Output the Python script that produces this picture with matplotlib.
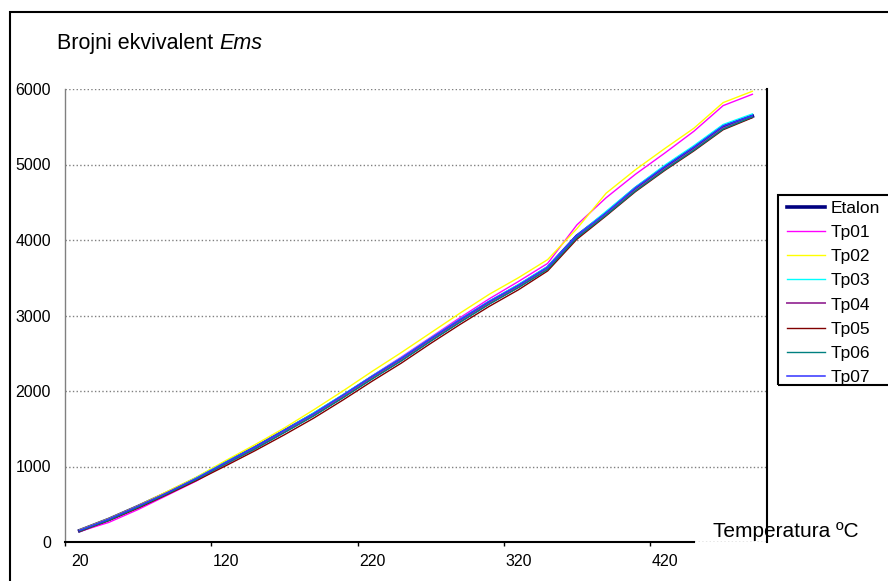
import numpy as np
import matplotlib
matplotlib.use('Agg')
import matplotlib.pyplot as plt
from matplotlib.patches import Rectangle

plt.rcParams['font.family'] = ['Liberation Sans', 'DejaVu Sans']

# ---data--- #
temps = [20, 40, 60, 80, 100, 120, 140, 160, 180, 200, 220, 240,
         260, 280, 300, 320, 340, 360, 380, 400, 420, 440, 460, 480]

etalon = [150, 300, 470, 650, 840, 1050, 1250, 1470, 1690, 1930, 2180, 2420,
          2680, 2930, 3170, 3390, 3630, 4050, 4350, 4680, 4960, 5220, 5500, 5640]
tp01 = [140, 260, 430, 620, 810, 1030, 1240, 1460, 1690, 1940, 2200, 2450,
        2710, 2970, 3220, 3450, 3690, 4200, 4560, 4870, 5150, 5440, 5780, 5930]
tp02 = [160, 310, 480, 670, 860, 1080, 1290, 1510, 1750, 2000, 2260, 2510,
        2770, 3030, 3280, 3500, 3740, 4150, 4620, 4930, 5210, 5480, 5820, 5970]
tp03 = [150, 290, 460, 650, 850, 1060, 1260, 1480, 1710, 1950, 2200, 2440,
        2700, 2950, 3190, 3410, 3650, 4060, 4380, 4700, 4990, 5250, 5530, 5670]
tp04 = [145, 295, 465, 645, 835, 1040, 1245, 1460, 1680, 1920, 2170, 2410,
        2670, 2920, 3160, 3380, 3620, 4040, 4340, 4660, 4940, 5200, 5480, 5630]
tp05 = [140, 285, 450, 630, 815, 1010, 1210, 1420, 1640, 1880, 2130, 2370,
        2630, 2880, 3120, 3340, 3590, 4010, 4320, 4640, 4920, 5180, 5460, 5620]
tp06 = [145, 290, 460, 640, 830, 1035, 1235, 1450, 1670, 1910, 2160, 2400,
        2660, 2910, 3150, 3370, 3610, 4030, 4330, 4650, 4930, 5190, 5470, 5630]
tp07 = [155, 305, 475, 655, 845, 1055, 1260, 1480, 1700, 1945, 2195, 2435,
        2695, 2945, 3185, 3400, 3640, 4060, 4360, 4690, 4970, 5230, 5510, 5650]

series = [('Etalon', etalon, '#000080', 2.6),
          ('Tp01', tp01, '#FF00FF', 1.0),
          ('Tp02', tp02, '#FFFF00', 1.0),
          ('Tp03', tp03, '#00FFFF', 1.0),
          ('Tp04', tp04, '#A040A0', 1.4),
          ('Tp05', tp05, '#800000', 1.0),
          ('Tp06', tp06, '#008080', 1.0),
          ('Tp07', tp07, '#3333FF', 1.1)]

label_temps = [20, 120, 220, 320, 420]
tick_bounds = [10, 110, 210, 310, 410]
y_ticks = [0, 1000, 2000, 3000, 4000, 5000, 6000]

# ---figure--- #
W, H = 888, 581
fig = plt.figure(figsize=(W / 100, H / 100), dpi=100)
ax = fig.add_axes([65 / W, 1 - 542 / H, 702 / W, 453 / H])

for name, vals, col, lw in series:
    ax.plot(temps, vals, color=col, lw=lw, label=name, solid_joinstyle='round')

ax.set_xlim(10, 490)
ax.set_ylim(0, 6000)

ax.set_yticks(y_ticks)
ax.set_yticklabels([str(v) for v in y_ticks])
ax.tick_params(axis='y', length=0, pad=10, labelsize=11.5)
ax.yaxis.grid(True, color='#808080', linestyle=':', linewidth=1.0)
ax.set_axisbelow(True)

ax.set_xticks(tick_bounds)
ax.set_xticklabels([])
ax.set_xticks(label_temps, minor=True)
ax.set_xticklabels([str(t) for t in label_temps], minor=True)
ax.tick_params(axis='x', which='major', length=3, width=1, color='black', direction='out')
ax.tick_params(axis='x', which='minor', length=0, pad=9, labelsize=11.5)

ax.spines['top'].set_visible(False)
ax.spines['left'].set_color('#808080')
ax.spines['left'].set_linewidth(1.0)
ax.spines['right'].set_color('black')
ax.spines['right'].set_linewidth(1.5)
ax.spines['bottom'].set_color('black')
ax.spines['bottom'].set_linewidth(1.5)
ax.spines['bottom'].set_bounds(10, 440)

# ---texts--- #
t1 = fig.text(57 / W, 1 - 49 / H, 'Brojni ekvivalent ', fontsize=15.5, va='baseline')
ax.annotate('Ems', xy=(1, 0), xycoords=t1, fontsize=15.5, style='italic',
            ha='left', va='bottom', annotation_clip=False)
fig.text(713 / W, 1 - 537 / H, 'Temperatura ºC', fontsize=15, va='baseline')

# ---legend--- #
leg = ax.legend(loc='upper left', bbox_to_anchor=(778 / W, 1 - 192 / H),
                bbox_transform=fig.transFigure, frameon=False, fontsize=12.5,
                borderaxespad=0, borderpad=0.5, handlelength=2.2,
                handletextpad=0.35, labelspacing=0.52)
fig.patches.append(Rectangle((778 / W, 1 - 385 / H), 0.3, 190 / H,
                             transform=fig.transFigure, fill=False,
                             ec='black', lw=1.5))

# outer chart border
fig.patches.append(Rectangle((10 / W, -0.1), 1.2, 1.1 - 11.5 / H,
                             transform=fig.transFigure, fill=False,
                             ec='black', lw=1.5))

plt.savefig('out.png', dpi=100)
